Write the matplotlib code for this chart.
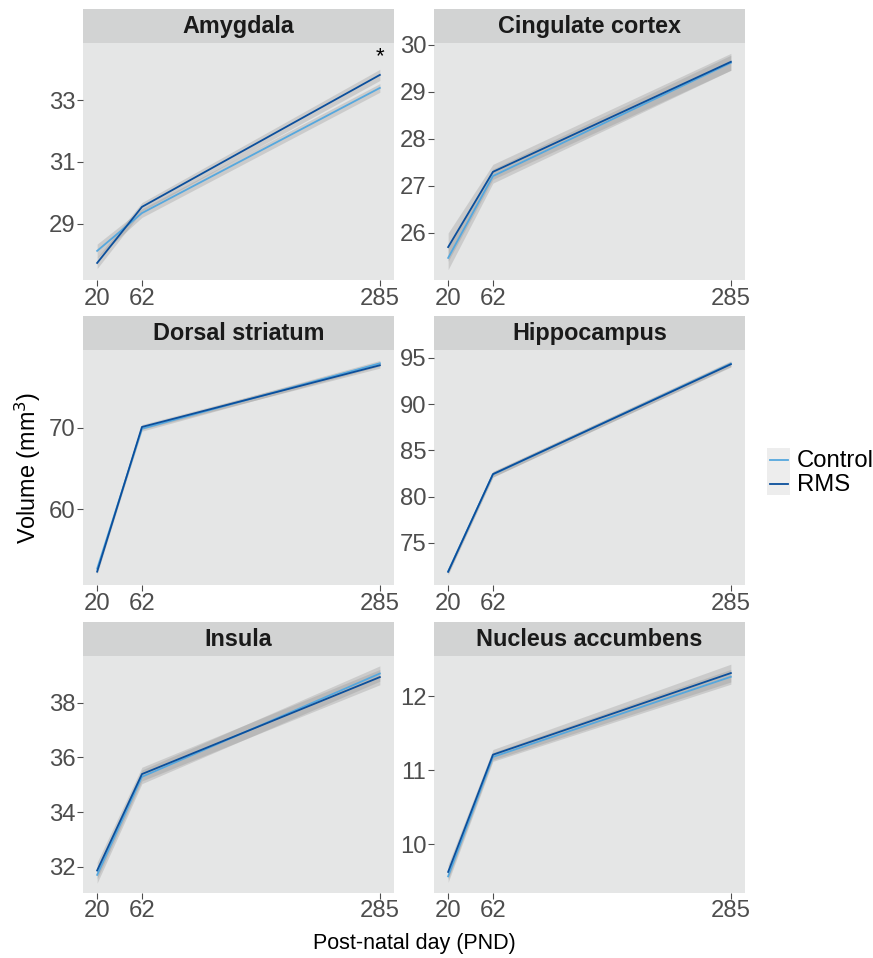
import matplotlib
matplotlib.use("Agg")
import matplotlib.pyplot as plt
from matplotlib.patches import Rectangle
from matplotlib.lines import Line2D

plt.rcParams['font.family'] = ['Liberation Sans', 'DejaVu Sans']

days = [20, 62, 285]
regions = ["Amygdala", "Cingulate cortex", "Dorsal striatum",
           "Hippocampus", "Insula", "Nucleus accumbens"]

ctrl_mean = {
    "Amygdala": [28.13, 29.35, 33.39],
    "Cingulate cortex": [25.47, 27.21, 29.62],
    "Dorsal striatum": [52.7, 69.85, 77.87],
    "Hippocampus": [71.9, 82.4, 94.38],
    "Insula": [31.71, 35.29, 39.06],
    "Nucleus accumbens": [9.57, 11.18, 12.26],
}
ctrl_se = {
    "Amygdala": [0.22, 0.14, 0.14],
    "Cingulate cortex": [0.25, 0.15, 0.16],
    "Dorsal striatum": [0.35, 0.3, 0.35],
    "Hippocampus": [0.3, 0.3, 0.3],
    "Insula": [0.3, 0.25, 0.28],
    "Nucleus accumbens": [0.08, 0.06, 0.1],
}
rms_mean = {
    "Amygdala": [27.74, 29.55, 33.81],
    "Cingulate cortex": [25.70, 27.30, 29.64],
    "Dorsal striatum": [52.33, 70.07, 77.63],
    "Hippocampus": [71.86, 82.43, 94.32],
    "Insula": [31.87, 35.39, 38.93],
    "Nucleus accumbens": [9.63, 11.21, 12.31],
}
rms_se = {
    "Amygdala": [0.18, 0.14, 0.18],
    "Cingulate cortex": [0.3, 0.16, 0.18],
    "Dorsal striatum": [0.35, 0.3, 0.35],
    "Hippocampus": [0.3, 0.3, 0.3],
    "Insula": [0.3, 0.25, 0.28],
    "Nucleus accumbens": [0.1, 0.07, 0.12],
}
yticks = {
    "Amygdala": [29, 31, 33],
    "Cingulate cortex": [26, 27, 28, 29, 30],
    "Dorsal striatum": [60, 70],
    "Hippocampus": [75, 80, 85, 90, 95],
    "Insula": [32, 34, 36, 38],
    "Nucleus accumbens": [10, 11, 12],
}
ylims = {
    "Amygdala": (27.19, 34.84),
    "Cingulate cortex": (25.0, 30.04),
    "Dorsal striatum": (50.66, 79.5),
    "Hippocampus": (70.4, 95.86),
    "Insula": (31.06, 39.70),
    "Nucleus accumbens": (9.35, 12.54),
}
sig_marks = {"Amygdala": (285, 34.39, "*")}

c_ctrl = "#56A8DE"
c_rms = "#0B4F9C"
panel_bg = "#E5E6E6"
strip_bg = "#D2D3D3"
tick_col = "#4D4D4D"

W, H = 873, 958
fig = plt.figure(figsize=(W / 100, H / 100), dpi=100)

lefts = [83, 434]
rows = [(43, 280), (350, 585.3), (656, 892.7)]
pw = 311
strip_h = 34

for i, reg in enumerate(regions):
    r, c = divmod(i, 2)
    top, bot = rows[r]
    ax = fig.add_axes([lefts[c] / W, 1 - bot / H, pw / W, (bot - top) / H])
    ax.set_facecolor(panel_bg)
    for s in ax.spines.values():
        s.set_visible(False)
    for mean, se, col in ((ctrl_mean[reg], ctrl_se[reg], c_ctrl),
                          (rms_mean[reg], rms_se[reg], c_rms)):
        lo = [m - e for m, e in zip(mean, se)]
        hi = [m + e for m, e in zip(mean, se)]
        ax.fill_between(days, lo, hi, color="#8F8F8F", alpha=0.3, lw=0)
    ax.plot(days, ctrl_mean[reg], color=c_ctrl, lw=1.3)
    ax.plot(days, rms_mean[reg], color=c_rms, lw=1.3)
    if reg in sig_marks:
        x, y, t = sig_marks[reg]
        ax.text(x, y, t, ha="center", va="center", fontsize=16, color="black")
    ax.set_xlim(6.75, 298.25)
    ax.set_ylim(*ylims[reg])
    ax.set_xticks(days)
    ax.set_xticklabels([str(d) for d in days])
    ax.set_yticks(yticks[reg])
    ax.set_yticklabels([str(v) for v in yticks[reg]])
    ax.tick_params(axis="both", colors=tick_col, labelcolor=tick_col,
                   labelsize=17.2, length=4, width=0.8, pad=1.5)
    ax.tick_params(axis="x", pad=1.5)
    hfrac = strip_h / (bot - top)
    ax.add_patch(Rectangle((0, 1), 1, hfrac, transform=ax.transAxes,
                           facecolor=strip_bg, edgecolor="none", clip_on=False))
    ax.text(0.5, 1 + hfrac / 2, reg, transform=ax.transAxes, ha="center",
            va="center", fontsize=16.8, fontweight="bold", color="#1A1A1A")

fig.text(414 / W, 1 - 944 / H, "Post-natal day (PND)", ha="center",
         va="center", fontsize=15.5)
fig.text(28 / W, 1 - 468 / H, r"Volume (mm$^3$)", ha="center", va="center",
         rotation=90, fontsize=16.8)

# legend
fig.patches.append(Rectangle((767 / W, 1 - 495 / H), 23 / W, 47 / H,
                             transform=fig.transFigure, facecolor="#EDEDED",
                             edgecolor="none"))
fig.add_artist(Line2D([770 / W, 788 / W], [1 - 460 / H] * 2, color=c_ctrl,
                      lw=1.3, transform=fig.transFigure))
fig.add_artist(Line2D([770 / W, 788 / W], [1 - 484 / H] * 2, color=c_rms,
                      lw=1.3, transform=fig.transFigure))
fig.text(797 / W, 1 - 461 / H, "Control", ha="left", va="center", fontsize=17.2)
fig.text(797 / W, 1 - 485 / H, "RMS", ha="left", va="center", fontsize=17.2)

fig.savefig("out.png", dpi=100)
